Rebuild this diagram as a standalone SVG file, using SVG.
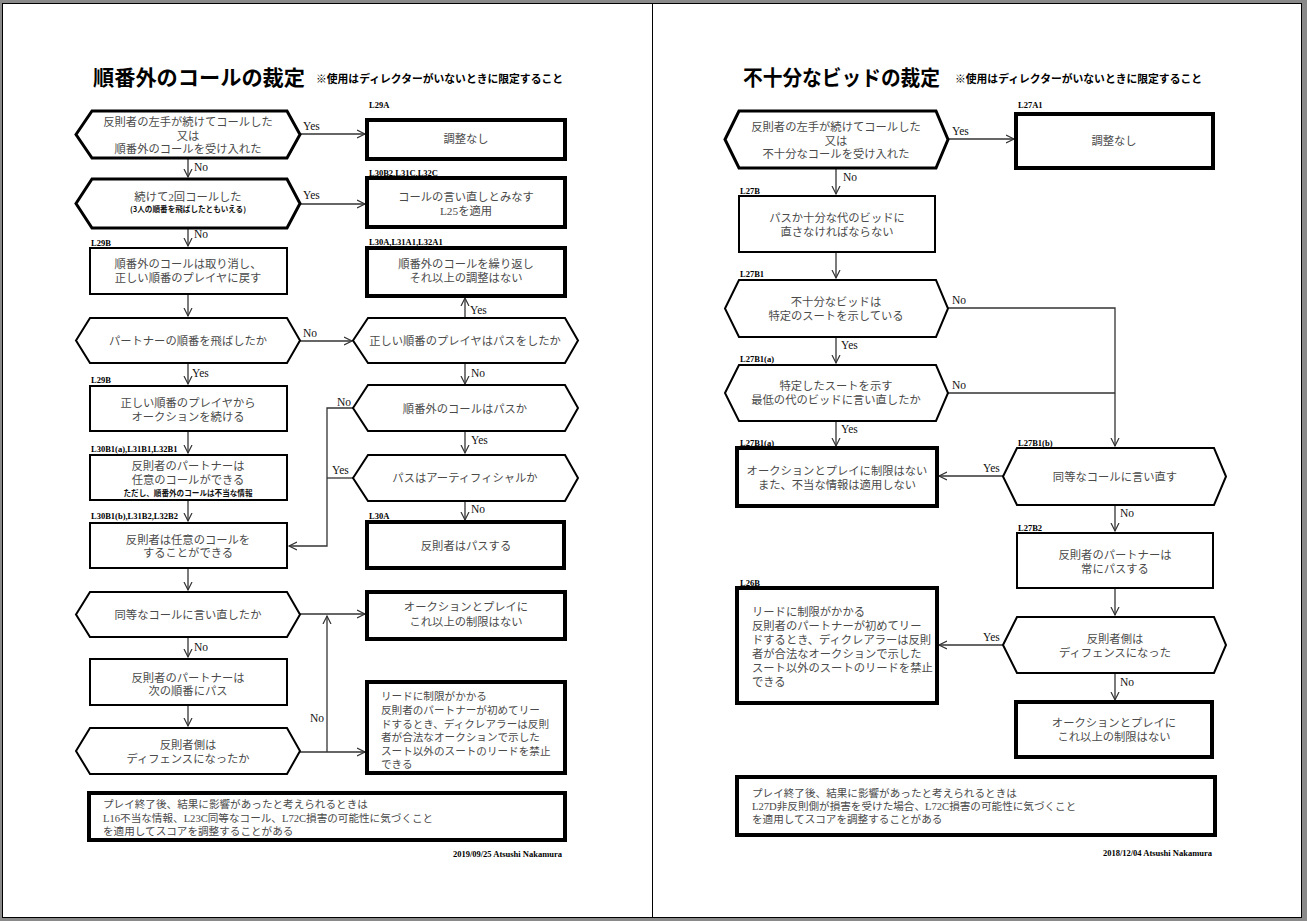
<svg xmlns="http://www.w3.org/2000/svg" width="1307" height="921" viewBox="0 0 1307 921">
<defs>
<marker id="ah" markerUnits="userSpaceOnUse" markerWidth="10" markerHeight="10" refX="8" refY="4.5" orient="auto" viewBox="0 0 10 9"><path d="M0,0.5 L8,4.5 L0,8.5" fill="none" stroke="#333" stroke-width="1.2"/></marker>
</defs>
<style>
.bg{fill:#8a8a8a}
.page{fill:#fff;stroke:#000;stroke-width:1}
.n{fill:#fff;stroke:#000;stroke-width:2}
.k{fill:#fff;stroke:#000;stroke-width:4}
.h3{fill:#fff;stroke:#000;stroke-width:3}
.c{fill:none;stroke:#333;stroke-width:1.3}
.ca{fill:none;stroke:#333;stroke-width:1.3;marker-end:url(#ah)}
.t{font-family:"Liberation Serif","Noto Sans CJK JP",serif;font-size:11.3px;fill:#4a4a4a;text-anchor:middle}
.tl{font-family:"Liberation Serif","Noto Sans CJK JP",serif;font-size:10.6px;fill:#4a4a4a}
.sm{font-family:"Noto Sans CJK JP",sans-serif;font-weight:bold;font-size:7.6px;fill:#111;text-anchor:middle}
.lab{font-family:"Liberation Serif",serif;font-weight:bold;font-size:8.5px;fill:#000}
.yn{font-family:"Liberation Serif",serif;font-size:11.5px;fill:#111}
.ti{font-family:"Noto Sans CJK JP",sans-serif;font-weight:bold;font-size:21px;fill:#000}
.sub{font-family:"Noto Sans CJK JP",sans-serif;font-weight:bold;font-size:10.8px;fill:#000}
.ft{font-family:"Liberation Serif",serif;font-weight:bold;font-size:8.5px;fill:#000;text-anchor:end}
</style>
<rect class="bg" x="0" y="0" width="1307" height="921"/>
<rect class="page" x="2.5" y="3.5" width="1299" height="914"/>
<line x1="652.5" y1="3.5" x2="652.5" y2="917.5" stroke="#000" stroke-width="1"/>

<g id="titles">
<text class="ti" x="93" y="85" textLength="212" lengthAdjust="spacingAndGlyphs">順番外のコールの裁定</text>
<text class="sub" x="316" y="83" textLength="247" lengthAdjust="spacingAndGlyphs">※使用はディレクターがいないときに限定すること</text>
<text class="ti" x="743" y="85" textLength="197" lengthAdjust="spacingAndGlyphs">不十分なビッドの裁定</text>
<text class="sub" x="955" y="83" textLength="247" lengthAdjust="spacingAndGlyphs">※使用はディレクターがいないときに限定すること</text>
</g>

<g id="connectors">
<!-- left page -->
<path class="ca" d="M300,134 H365"/>
<path class="ca" d="M188,158 V177"/>
<path class="ca" d="M300,204 H365"/>
<path class="ca" d="M188,228 V246"/>
<path class="ca" d="M188,294 V316"/>
<path class="ca" d="M300,341 H352"/>
<path class="ca" d="M465,318 V298"/>
<path class="ca" d="M188,363 V384"/>
<path class="ca" d="M465,363 V384"/>
<path class="ca" d="M188,431 V453"/>
<path class="ca" d="M465,431 V453"/>
<path class="ca" d="M353,408 H327 V546 H289"/>
<path class="c" d="M353,478 H327"/>
<path class="ca" d="M188,500 V521"/>
<path class="ca" d="M465,501 V520"/>
<path class="ca" d="M188,568 V590"/>
<path class="ca" d="M300,614 H365"/>
<path class="ca" d="M327,752 V616"/>
<path class="ca" d="M300,752 H365"/>
<path class="ca" d="M188,637 V657"/>
<path class="ca" d="M188,705 V726"/>
<!-- right page -->
<path class="ca" d="M948,139 H1014"/>
<path class="ca" d="M836,168 V194"/>
<path class="ca" d="M836,252 V278"/>
<path class="ca" d="M948,308 H1115 V446"/>
<path class="c" d="M948,393 H1115"/>
<path class="ca" d="M836,337 V363"/>
<path class="ca" d="M836,421 V446"/>
<path class="ca" d="M1003,476 H939"/>
<path class="ca" d="M1115,505 V531"/>
<path class="ca" d="M1115,588 V615"/>
<path class="ca" d="M1003,645 H939"/>
<path class="ca" d="M1115,673 V700"/>
<!-- yes/no labels -->
<text class="yn" x="303" y="130">Yes</text>
<text class="yn" x="194" y="171">No</text>
<text class="yn" x="303" y="199">Yes</text>
<text class="yn" x="194" y="238">No</text>
<text class="yn" x="303" y="337">No</text>
<text class="yn" x="470" y="314">Yes</text>
<text class="yn" x="192" y="377">Yes</text>
<text class="yn" x="471" y="377">No</text>
<text class="yn" x="471" y="444">Yes</text>
<text class="yn" x="337" y="406">No</text>
<text class="yn" x="332" y="474">Yes</text>
<text class="yn" x="471" y="513">No</text>
<text class="yn" x="194" y="651">No</text>
<text class="yn" x="310" y="722">No</text>
<text class="yn" x="952" y="135">Yes</text>
<text class="yn" x="843" y="181">No</text>
<text class="yn" x="952" y="304">No</text>
<text class="yn" x="841" y="349">Yes</text>
<text class="yn" x="952" y="389">No</text>
<text class="yn" x="841" y="433">Yes</text>
<text class="yn" x="983" y="472">Yes</text>
<text class="yn" x="1120" y="517">No</text>
<text class="yn" x="983" y="641">Yes</text>
<text class="yn" x="1120" y="686">No</text>
</g>

<!-- LEFT PAGE NODES -->
<g id="lh1">
<polygon class="h3" points="76,134.5 92,111 287,111 300,134.5 287,158 92,158"/>
<text class="t" x="188" y="126">反則者の左手が続けてコールした</text>
<text class="t" x="188" y="140">又は</text>
<text class="t" x="188" y="153">順番外のコールを受け入れた</text>
</g>
<g id="lb1">
<text class="lab" x="369" y="108">L29A</text>
<rect class="k" x="367" y="120" width="198" height="39"/>
<text class="t" x="466" y="143">調整なし</text>
</g>
<g id="lh2">
<polygon class="h3" points="76,203.5 92,179 287,179 300,203.5 287,228 92,228"/>
<text class="t" x="188" y="201">続けて2回コールした</text>
<text class="sm" x="188" y="212">(3人の順番を飛ばしたともいえる)</text>
</g>
<g id="lb2">
<text class="lab" x="369" y="176">L30B2,L31C,L32C</text>
<rect class="k" x="367" y="178" width="198" height="49"/>
<text class="t" x="466" y="201">コールの言い直しとみなす</text>
<text class="t" x="466" y="215">L25を適用</text>
</g>
<g id="lb3">
<text class="lab" x="91" y="246">L29B</text>
<rect class="n" x="90" y="248" width="197" height="46"/>
<text class="t" x="188" y="268">順番外のコールは取り消し、</text>
<text class="t" x="188" y="282">正しい順番のプレイヤに戻す</text>
</g>
<g id="lb4">
<text class="lab" x="369" y="245">L30A,L31A1,L32A1</text>
<rect class="k" x="367" y="248" width="198" height="48"/>
<text class="t" x="466" y="268">順番外のコールを繰り返し</text>
<text class="t" x="466" y="282">それ以上の調整はない</text>
</g>
<g id="lh3">
<polygon class="n" points="76,340.5 90,318 287,318 300,340.5 287,363 90,363"/>
<text class="t" x="188" y="345">パートナーの順番を飛ばしたか</text>
</g>
<g id="lh4">
<polygon class="n" points="353,340.5 368,318 565,318 578,340.5 565,363 368,363"/>
<text class="t" x="465" y="345">正しい順番のプレイヤはパスをしたか</text>
</g>
<g id="lb5">
<text class="lab" x="91" y="383">L29B</text>
<rect class="n" x="90" y="386" width="197" height="45"/>
<text class="t" x="188" y="407">正しい順番のプレイヤから</text>
<text class="t" x="188" y="421">オークションを続ける</text>
</g>
<g id="lh5">
<polygon class="n" points="353,408 368,385 565,385 578,408 565,431 368,431"/>
<text class="t" x="465" y="413">順番外のコールはパスか</text>
</g>
<g id="lb6">
<text class="lab" x="91" y="452">L30B1(a),L31B1,L32B1</text>
<rect class="n" x="90" y="455" width="197" height="45"/>
<text class="t" x="188" y="470">反則者のパートナーは</text>
<text class="t" x="188" y="484">任意のコールができる</text>
<text class="sm" x="188" y="496">ただし、順番外のコールは不当な情報</text>
</g>
<g id="lh6">
<polygon class="n" points="353,478 368,455 565,455 578,478 565,501 368,501"/>
<text class="t" x="465" y="482">パスはアーティフィシャルか</text>
</g>
<g id="lb7">
<text class="lab" x="91" y="519">L30B1(b),L31B2,L32B2</text>
<rect class="n" x="90" y="523" width="197" height="45"/>
<text class="t" x="188" y="544">反則者は任意のコールを</text>
<text class="t" x="188" y="557">することができる</text>
</g>
<g id="lb8">
<text class="lab" x="369" y="519">L30A</text>
<rect class="k" x="367" y="522" width="197" height="46"/>
<text class="t" x="466" y="550">反則者はパスする</text>
</g>
<g id="lh7">
<polygon class="n" points="76,614.5 90,592 287,592 300,614.5 287,637 90,637"/>
<text class="t" x="188" y="619">同等なコールに言い直したか</text>
</g>
<g id="lb9">
<rect class="k" x="367" y="592" width="198" height="47"/>
<text class="t" x="466" y="611">オークションとプレイに</text>
<text class="t" x="466" y="626">これ以上の制限はない</text>
</g>
<g id="lb10">
<rect class="n" x="90" y="659" width="197" height="46"/>
<text class="t" x="188" y="682">反則者のパートナーは</text>
<text class="t" x="188" y="695">次の順番にパス</text>
</g>
<g id="lh8">
<polygon class="n" points="76,751 90,728 287,728 300,751 287,774 90,774"/>
<text class="t" x="188" y="749">反則者側は</text>
<text class="t" x="188" y="763">ディフェンスになったか</text>
</g>
<g id="lb11">
<rect class="k" x="367" y="682" width="198" height="91"/>
<text class="tl" x="381" y="700">リードに制限がかかる</text>
<text class="tl" x="381" y="713.5">反則者のパートナーが初めてリー</text>
<text class="tl" x="381" y="727.5">ドするとき、ディクレアラーは反則</text>
<text class="tl" x="381" y="741">者が合法なオークションで示した</text>
<text class="tl" x="381" y="754.5">スート以外のスートのリードを禁止</text>
<text class="tl" x="381" y="768">できる</text>
</g>
<g id="lb12">
<rect class="k" x="89" y="793" width="476" height="47"/>
<text class="tl" x="103" y="808">プレイ終了後、結果に影響があったと考えられるときは</text>
<text class="tl" x="103" y="822">L16不当な情報、L23C同等なコール、L72C損害の可能性に気づくこと</text>
<text class="tl" x="103" y="835">を適用してスコアを調整することがある</text>
</g>
<text class="ft" x="562" y="857">2019/09/25 Atsushi Nakamura</text>

<!-- RIGHT PAGE NODES -->
<g id="rh1">
<polygon class="h3" points="725,139.5 739,111 936,111 948,139.5 936,168 739,168"/>
<text class="t" x="836" y="131">反則者の左手が続けてコールした</text>
<text class="t" x="836" y="145">又は</text>
<text class="t" x="836" y="158">不十分なコールを受け入れた</text>
</g>
<g id="rb1">
<text class="lab" x="1018" y="108">L27A1</text>
<rect class="k" x="1016" y="114" width="197" height="54"/>
<text class="t" x="1114" y="145">調整なし</text>
</g>
<g id="rb2">
<text class="lab" x="740" y="194">L27B</text>
<rect class="n" x="739" y="196" width="196" height="56"/>
<text class="t" x="837" y="222">パスか十分な代のビッドに</text>
<text class="t" x="837" y="236">直さなければならない</text>
</g>
<g id="rh2">
<text class="lab" x="740" y="277">L27B1</text>
<polygon class="n" points="725,308.5 739,280 936,280 948,308.5 936,337 739,337"/>
<text class="t" x="836" y="306">不十分なビッドは</text>
<text class="t" x="836" y="320">特定のスートを示している</text>
</g>
<g id="rh3">
<text class="lab" x="740" y="362">L27B1(a)</text>
<polygon class="n" points="725,393 739,365 936,365 948,393 936,421 739,421"/>
<text class="t" x="836" y="390">特定したスートを示す</text>
<text class="t" x="836" y="404">最低の代のビッドに言い直したか</text>
</g>
<g id="rb3">
<text class="lab" x="740" y="446">L27B1(a)</text>
<rect class="k" x="737" y="448" width="200" height="58"/>
<text class="t" x="837" y="475">オークションとプレイに制限はない</text>
<text class="t" x="837" y="489">また、不当な情報は適用しない</text>
</g>
<g id="rh4">
<text class="lab" x="1018" y="446">L27B1(b)</text>
<polygon class="n" points="1003,476.5 1017,448 1214,448 1226,476.5 1214,505 1017,505"/>
<text class="t" x="1115" y="481">同等なコールに言い直す</text>
</g>
<g id="rb5">
<text class="lab" x="1018" y="531">L27B2</text>
<rect class="n" x="1017" y="533" width="196" height="55"/>
<text class="t" x="1115" y="559">反則者のパートナーは</text>
<text class="t" x="1115" y="573">常にパスする</text>
</g>
<g id="rb6">
<text class="lab" x="740" y="586">L26B</text>
<rect class="k" x="737" y="588" width="200" height="115"/>
<text class="t" x="752" y="616" style="text-anchor:start">リードに制限がかかる</text>
<text class="t" x="752" y="630" style="text-anchor:start">反則者のパートナーが初めてリー</text>
<text class="t" x="752" y="644" style="text-anchor:start">ドするとき、ディクレアラーは反則</text>
<text class="t" x="752" y="658" style="text-anchor:start">者が合法なオークションで示した</text>
<text class="t" x="752" y="672" style="text-anchor:start">スート以外のスートのリードを禁止</text>
<text class="t" x="752" y="686" style="text-anchor:start">できる</text>
</g>
<g id="rh5">
<polygon class="n" points="1003,645 1017,617 1214,617 1226,645 1214,673 1017,673"/>
<text class="t" x="1115" y="643">反則者側は</text>
<text class="t" x="1115" y="657">ディフェンスになった</text>
</g>
<g id="rb7">
<rect class="k" x="1016" y="702" width="196" height="55"/>
<text class="t" x="1114" y="727">オークションとプレイに</text>
<text class="t" x="1114" y="741">これ以上の制限はない</text>
</g>
<g id="rb8">
<rect class="k" x="737" y="777" width="478" height="58"/>
<text class="tl" x="752" y="797">プレイ終了後、結果に影響があったと考えられるときは</text>
<text class="tl" x="752" y="810">L27D非反則側が損害を受けた場合、L72C損害の可能性に気づくこと</text>
<text class="tl" x="752" y="823">を適用してスコアを調整することがある</text>
</g>
<text class="ft" x="1212" y="856">2018/12/04 Atsushi Nakamura</text>
</svg>
